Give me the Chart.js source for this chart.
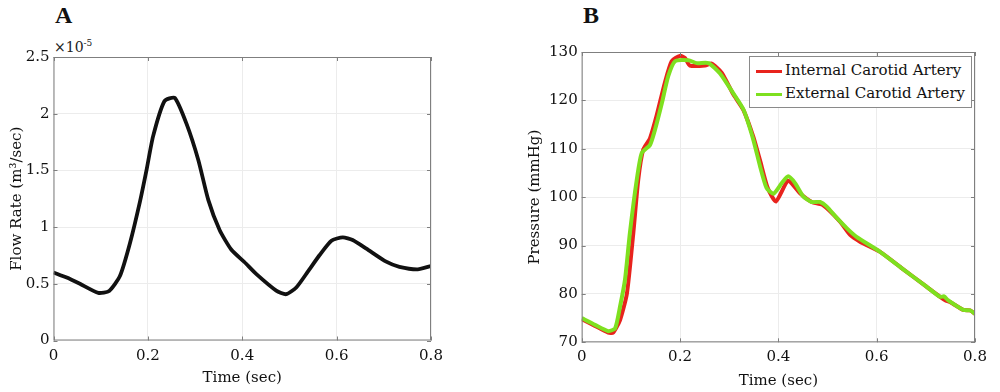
<!DOCTYPE html>
<html>
<head>
<meta charset="utf-8">
<script src="https://cdn.jsdelivr.net/npm/chart.js@4"></script>
<style>
  body { margin: 0; width: 1000px; height: 392px; background: #fff; position: relative; overflow: hidden; }
  .panel { position: absolute; top: 0; height: 392px; }
  .letter { position: absolute; font: bold 24px "Liberation Serif", serif; color: #111; }
  .expo { position: absolute; font: 14px "DejaVu Serif", serif; color: #222; }
  .expo sup { font-size: 9px; }
  .legend { position: absolute; left: 749px; top: 56px; width: 221px; height: 50px; border: 1px solid #8a8a8a; background: #fff; font: 15px "DejaVu Serif", serif; color: #111; }
  .legend div { position: absolute; left: 6px; height: 20px; line-height: 20px; white-space: nowrap; }
  .legend span { display: inline-block; width: 26px; height: 3px; vertical-align: middle; margin-right: 3px; }
</style>
</head>
<body>
<div class="letter" style="left:55px;top:2px;">A</div>
<div class="letter" style="left:583px;top:2px;">B</div>
<div class="expo" style="left:54px;top:38px;">×10<sup>-5</sup></div>

<div class="panel" style="left:0;width:480px;"><canvas id="chartA"></canvas></div>
<div class="panel" style="left:500px;width:500px;"><canvas id="chartB"></canvas></div>

<div class="legend">
  <div style="top:3px;"><span style="background:#e8231d;"></span>Internal Carotid Artery</div>
  <div style="top:26px;"><span style="background:#7ee01f;"></span>External Carotid Artery</div>
</div>

<script>
// panel A: flow rate (x 1e-5 m3/sec)
const timeA = [0, 0.028, 0.056, 0.095, 0.118, 0.141, 0.162, 0.183, 0.197, 0.211, 0.235, 0.257, 0.282, 0.307, 0.328, 0.352, 0.377, 0.405, 0.43, 0.472, 0.493, 0.515, 0.539, 0.564, 0.589, 0.613, 0.634, 0.663, 0.705, 0.733, 0.772, 0.8];
const flowA = [0.60, 0.555, 0.50, 0.42, 0.437, 0.57, 0.857, 1.22, 1.50, 1.80, 2.11, 2.14, 1.91, 1.59, 1.24, 0.974, 0.80, 0.69, 0.585, 0.44, 0.408, 0.47, 0.607, 0.754, 0.88, 0.91, 0.886, 0.81, 0.695, 0.65, 0.628, 0.657];

// panel B: pressure (mmHg)
const timeICA = [0, 0.027, 0.054, 0.064, 0.078, 0.092, 0.105, 0.115, 0.125, 0.139, 0.152, 0.169, 0.183, 0.2, 0.21, 0.22, 0.251, 0.264, 0.285, 0.308, 0.329, 0.349, 0.363, 0.378, 0.395, 0.42, 0.444, 0.468, 0.49, 0.525, 0.546, 0.566, 0.607, 0.65, 0.7, 0.729, 0.741, 0.75, 0.776, 0.79, 0.8];
const pressICA = [74.8, 73.4, 72.0, 72.0, 74.6, 80.1, 92.6, 103.6, 109.8, 112.2, 116.7, 123.6, 128.1, 129.2, 128.8, 127.2, 127.2, 127.6, 125.7, 121.3, 118.0, 112.5, 107.5, 102.0, 99.1, 103.4, 100.8, 99.0, 98.4, 95.0, 92.2, 90.8, 88.7, 85.4, 81.6, 79.4, 78.6, 78.3, 76.7, 76.6, 75.9];
const timeECA = [0, 0.027, 0.054, 0.068, 0.078, 0.088, 0.098, 0.112, 0.122, 0.139, 0.149, 0.163, 0.176, 0.19, 0.217, 0.234, 0.258, 0.281, 0.308, 0.329, 0.349, 0.363, 0.376, 0.39, 0.407, 0.42, 0.434, 0.451, 0.468, 0.485, 0.498, 0.519, 0.539, 0.559, 0.607, 0.65, 0.7, 0.729, 0.737, 0.745, 0.776, 0.79, 0.8];
const pressECA = [75.0, 73.6, 72.3, 72.9, 77.4, 82.9, 92.6, 103.6, 109.1, 110.8, 113.9, 119.4, 125.0, 128.1, 128.3, 127.7, 127.7, 125.6, 121.5, 118.1, 111.9, 106.3, 101.9, 100.7, 102.9, 104.3, 102.9, 100.1, 99.0, 99.0, 98.1, 95.7, 93.6, 91.8, 88.7, 85.4, 81.6, 79.4, 79.5, 78.7, 76.7, 76.6, 75.9];

const seriesNames = ['Internal Carotid Artery', 'External Carotid Artery'];

const serif = '"DejaVu Serif", serif';
Chart.defaults.font.family = serif;
Chart.defaults.color = '#111';

const toPoints = (xs, ys) => xs.map((x, i) => ({ x: x, y: ys[i] }));

// frame round the plot area with small inward ticks, like matlab's box
const boxFrame = {
  id: 'boxFrame',
  afterDraw(chart) {
    const { ctx, chartArea: a, scales } = chart;
    ctx.save();
    ctx.strokeStyle = '#7f7f7f';
    ctx.lineWidth = 1;
    ctx.strokeRect(a.left + 0.5, a.top + 0.5, a.right - a.left - 1, a.bottom - a.top - 1);
    ctx.beginPath();
    scales.x.ticks.forEach(t => {
      const px = Math.round(scales.x.getPixelForValue(t.value)) + 0.5;
      ctx.moveTo(px, a.bottom); ctx.lineTo(px, a.bottom - 4);
      ctx.moveTo(px, a.top); ctx.lineTo(px, a.top + 4);
    });
    scales.y.ticks.forEach(t => {
      const py = Math.round(scales.y.getPixelForValue(t.value)) + 0.5;
      ctx.moveTo(a.left, py); ctx.lineTo(a.left + 4, py);
      ctx.moveTo(a.right, py); ctx.lineTo(a.right - 4, py);
    });
    ctx.stroke();
    ctx.restore();
  }
};

function axisOpts(min, max, step, title, titlePad, tickPad, fitSize, isX) {
  return {
    type: 'linear',
    min: min, max: max,
    afterFit: s => { if (isX) s.height = fitSize; else s.width = fitSize; },
    ticks: { stepSize: step, padding: tickPad, font: { size: 15 }, color: '#111', callback: v => String(+v.toFixed(2)) },
    grid: { color: '#ececec', drawTicks: false },
    border: { display: false },
    title: { display: true, text: title, font: { size: 15 }, color: '#111', padding: titlePad }
  };
}

new Chart(document.getElementById('chartA'), {
  type: 'line',
  data: {
    datasets: [{
      data: toPoints(timeA, flowA),
      borderColor: '#111',
      borderWidth: 3.8,
      pointRadius: 0,
      tension: 0.2
    }]
  },
  options: {
    responsive: true,
    maintainAspectRatio: false,
    animation: false,
    layout: { padding: { top: 57, right: 49, left: 0, bottom: 0 } },
    plugins: { legend: { display: false }, tooltip: { enabled: false } },
    scales: {
      x: axisOpts(0, 0.8, 0.2, 'Time (sec)', { bottom: 5 }, 7, 51.5, true),
      y: axisOpts(0, 2.5, 0.5, 'Flow Rate (m³/sec)', { top: 8 }, 4, 53.5, false)
    }
  },
  plugins: [boxFrame]
});

new Chart(document.getElementById('chartB'), {
  type: 'line',
  data: {
    datasets: [{
      label: seriesNames[0],
      data: toPoints(timeICA, pressICA),
      borderColor: '#e8231d',
      borderWidth: 4,
      pointRadius: 0,
      tension: 0.2,
      order: 1
    }, {
      label: seriesNames[1],
      data: toPoints(timeECA, pressECA),
      borderColor: '#7ee01f',
      borderWidth: 4,
      pointRadius: 0,
      tension: 0.2,
      order: 0
    }]
  },
  options: {
    responsive: true,
    maintainAspectRatio: false,
    animation: false,
    layout: { padding: { top: 52, right: 25, left: 0, bottom: 0 } },
    plugins: { legend: { display: false }, tooltip: { enabled: false } },
    scales: {
      x: axisOpts(0, 0.8, 0.2, 'Time (sec)', { bottom: 2 }, 6, 49.7, true),
      y: axisOpts(70, 130, 10, 'Pressure (mmHg)', { top: 26 }, 4, 81.7, false)
    }
  },
  plugins: [boxFrame]
});
</script>
</body>
</html>
